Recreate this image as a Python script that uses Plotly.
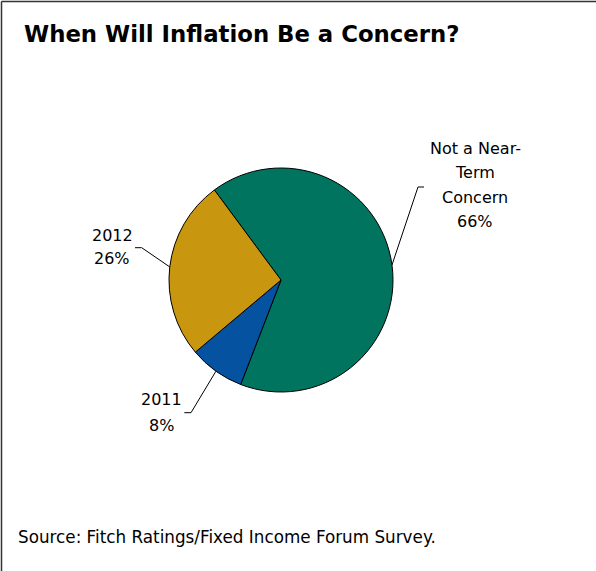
import math
import plotly.graph_objects as go

# Survey responses: when will inflation be a concern?
labels = ["Not a Near-Term Concern", "2011", "2012"]
label_lines = [["Not a Near-", "Term", "Concern"], ["2011"], ["2012"]]
values = [66, 8, 26]
colors = ["#00745F", "#0452A0", "#C8960F"]

W, H = 596, 571
CX, CY, R = 281, 280, 112          # pie centre / radius in pixels
START = -36.5                        # first slice starts this many degrees from 12 o'clock
FONT = "DejaVu Sans, Liberation Sans, Arial"

def px(x):
    return x / W

def py(y):
    return 1 - y / H

fig = go.Figure(go.Pie(
    labels=labels,
    values=values,
    sort=False,
    direction="clockwise",
    rotation=START,
    marker=dict(colors=colors, line=dict(color="black", width=1)),
    textinfo="none",
    hoverinfo="label+percent",
    showlegend=False,
    domain=dict(x=[px(CX - R), px(CX + R)], y=[py(CY + R), py(CY - R)]),
))

# label placement: (elbow x, elbow y, elbow end x, text centre x, first line y, line step)
placement = [
    (418, 187, 424, 475, 148, 24.5),
    (191, 412.7, 184.3, 161, 399.5, 25.5),
    (141.7, 247.7, 135, 112, 235, 23.5),
]

shapes = []
annotations = []
total = sum(values)
cum = 0
for i, v in enumerate(values):
    mid = START + (cum + v / 2) / total * 360
    cum += v
    a = math.radians(mid)
    sx = CX + R * math.sin(a)
    sy = CY - R * math.cos(a)
    ex, ey, hx, tx, ty, step = placement[i]
    path = f"M {px(sx)},{py(sy)} L {px(ex)},{py(ey)} L {px(hx)},{py(ey)}"
    shapes.append(dict(type="path", xref="paper", yref="paper", path=path,
                       line=dict(color="black", width=1)))
    lines = label_lines[i] + [f"{v}%"]
    for k, t in enumerate(lines):
        annotations.append(dict(
            text=t, x=px(tx), y=py(ty + k * step), xref="paper", yref="paper",
            xanchor="center", yanchor="middle", showarrow=False,
            font=dict(family=FONT, size=16, color="black"),
        ))

annotations.append(dict(
    text="<b>When Will Inflation Be a Concern?</b>", x=px(22), y=py(34),
    xref="paper", yref="paper", xanchor="left", yanchor="middle", showarrow=False,
    font=dict(family=FONT, size=22.8, color="black"),
))
annotations.append(dict(
    text="Source: Fitch Ratings/Fixed Income Forum Survey.", x=px(16), y=py(537),
    xref="paper", yref="paper", xanchor="left", yanchor="middle", showarrow=False,
    font=dict(family=FONT, size=16.8, color="black"),
))

# frame edges along the top and left
shapes.append(dict(type="line", xref="paper", yref="paper", x0=px(1.5), x1=1, y0=py(1.5), y1=py(1.5),
                   line=dict(color="#333333", width=1.5)))
shapes.append(dict(type="line", xref="paper", yref="paper", x0=px(1.5), x1=px(1.5), y0=0, y1=py(1.5),
                   line=dict(color="#333333", width=1.5)))

fig.update_layout(
    width=W, height=H,
    margin=dict(l=0, r=0, t=0, b=0),
    paper_bgcolor="white", plot_bgcolor="white",
    shapes=shapes, annotations=annotations,
)

fig.write_html("out.html", config={"displayModeBar": False})
